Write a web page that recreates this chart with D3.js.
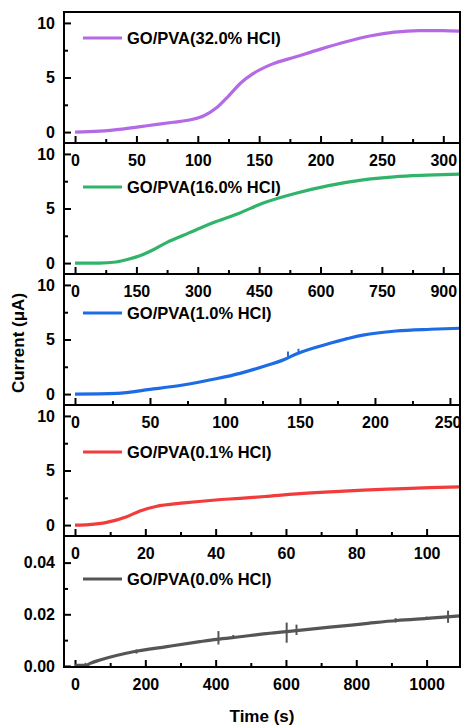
<!DOCTYPE html>
<html>
<head>
<meta charset="utf-8">
<script src="https://cdn.jsdelivr.net/npm/d3@7"></script>
<style>
  body { margin: 0; background: #fff; }
  text { font-family: "Liberation Sans", Arial, sans-serif; font-weight: bold; fill: #000; }
</style>
</head>
<body>
<div id="vis"></div>
<script>
const WIDTH = 462
const HEIGHT = 726
const LEFT = 64
const RIGHT = 460
const TOP = 12
const PANEL_H = 131

// series labels, top to bottom
const labels = [
	'GO/PVA(32.0% HCl)',
	'GO/PVA(16.0% HCl)',
	'GO/PVA(1.0% HCl)',
	'GO/PVA(0.1% HCl)',
	'GO/PVA(0.0% HCl)'
]
const colors = ['#b46ae4', '#30b46a', '#1e6be6', '#f23b3b', '#555555']

// time (s) and current (uA)
const t32 = [0, 20, 40, 60, 80, 95, 105, 115, 125, 135, 145, 160, 180, 200, 220, 240, 260, 280, 300, 313]
const i32 = [0, 0.08, 0.3, 0.6, 0.9, 1.15, 1.5, 2.2, 3.3, 4.5, 5.35, 6.2, 6.9, 7.6, 8.25, 8.8, 9.15, 9.3, 9.3, 9.25]

const t16 = [0, 60, 100, 130, 160, 190, 225, 265, 305, 345, 400, 460, 540, 620, 700, 780, 860, 940]
const i16 = [0, 0, 0.1, 0.35, 0.7, 1.2, 1.9, 2.55, 3.2, 3.8, 4.55, 5.5, 6.4, 7.1, 7.6, 7.9, 8.05, 8.15]

const t1 = [0, 28, 50, 72, 94, 110, 125, 140, 148, 170, 192, 214, 237, 257]
const i1 = [0, 0.06, 0.43, 0.83, 1.4, 1.9, 2.5, 3.2, 3.7, 4.65, 5.4, 5.78, 5.94, 6.03]

const t01 = [0, 4, 9, 14.7, 18.5, 23, 31, 40, 47, 54, 63, 72.5, 82, 91.5, 101, 109.5]
const i01 = [0, 0.05, 0.25, 0.77, 1.3, 1.7, 2.03, 2.3, 2.45, 2.62, 2.86, 3.05, 3.2, 3.32, 3.43, 3.5]

const t0 = [0, 30, 43, 71, 166, 261, 355, 403, 469, 536, 602, 725, 820, 915, 1010, 1095]
const i0 = [0.0002, 0.0002, 0.001, 0.0023, 0.0055, 0.0075, 0.0094, 0.0103, 0.0113, 0.0124, 0.0133, 0.015, 0.0163, 0.0176, 0.0185, 0.0194]

// noise spikes: [time, low, high]
const spikes1 = [[142, 3.4, 3.9], [149, 3.7, 4.15], [181, 5.0, 5.2]]
const spikes0 = [[30, -0.0004, 0.0012], [175, 0.0048, 0.0064], [408, 0.0083, 0.0135], [450, 0.0105, 0.012],
	[602, 0.009, 0.0168], [630, 0.012, 0.016], [912, 0.0168, 0.0185], [1000, 0.0178, 0.0191], [1061, 0.0167, 0.0214]]

// axis domains and ticks
const xDomains = [[-9, 313.6], [-27, 941], [-7.33, 256.7], [-3.13, 109.5], [-31.3, 1095]]
const xMajor = [
	[0, 50, 100, 150, 200, 250, 300],
	[0, 150, 300, 450, 600, 750, 900],
	[0, 50, 100, 150, 200, 250],
	[0, 20, 40, 60, 80, 100],
	[0, 200, 400, 600, 800, 1000]
]
const yDomains = [[-1, 11], [-1, 11], [-1, 11], [-1, 11], [-0.0004, 0.0503]]
const yMajor = [[0, 5, 10], [0, 5, 10], [0, 5, 10], [0, 5, 10], [0, 0.02, 0.04]]
const yMinor = [[2.5, 7.5], [2.5, 7.5], [2.5, 7.5], [2.5, 7.5], [0.01, 0.03]]
const yFormat = [d3.format('d'), d3.format('d'), d3.format('d'), d3.format('d'), d3.format('.2f')]

const series = [[t32, i32], [t16, i16], [t1, i1], [t01, i01], [t0, i0]]
const spikes = [[], [], spikes1, [], spikes0]
const legendOffset = [26, 44, 39, 47, 43]

let svg = d3.select('#vis')
	.append('svg')
	.attr('width', WIDTH)
	.attr('height', HEIGHT)

series.forEach((s, i) => {
	let top = TOP + i * PANEL_H
	let bottom = top + PANEL_H
	let x = d3.scaleLinear().domain(xDomains[i]).range([LEFT, RIGHT])
	let y = d3.scaleLinear().domain(yDomains[i]).range([bottom, top])

	let g = svg.append('g').attr('class', 'panel-' + i)

	// minor ticks (midpoints of majors)
	let majors = xMajor[i]
	let step = majors[1] - majors[0]
	let minors = majors.map(d => d + step / 2).filter(d => x(d) < RIGHT - 2)

	g.append('g')
		.attr('transform', `translate(0,${bottom})`)
		.call(d3.axisBottom(x).tickValues(minors).tickSize(-4).tickFormat(''))
		.call(a => a.select('.domain').remove())
		.call(a => a.selectAll('.tick line').attr('stroke', '#000').attr('stroke-width', 2))

	g.append('g')
		.attr('transform', `translate(0,${bottom})`)
		.call(d3.axisBottom(x).tickValues(majors).tickSize(-7).tickPadding(11.5).tickFormat(d3.format('d')))
		.call(a => a.select('.domain').remove())
		.call(a => a.selectAll('.tick line').attr('stroke', '#000').attr('stroke-width', 2))
		.call(a => a.selectAll('.tick text').attr('font-size', '16px').attr('font-family', null))
		.call(a => a.selectAll('.tick text').each(function (d) {
			// keep the last label inside the window
			let w = this.getComputedTextLength()
			let over = x(d) + w / 2 - (WIDTH - 1)
			if (over > 0) d3.select(this).attr('x', -over)
		}))

	g.append('g')
		.attr('transform', `translate(${LEFT},0)`)
		.call(d3.axisLeft(y).tickValues(yMinor[i]).tickSize(-4).tickFormat(''))
		.call(a => a.select('.domain').remove())
		.call(a => a.selectAll('.tick line').attr('stroke', '#000').attr('stroke-width', 2))

	g.append('g')
		.attr('transform', `translate(${LEFT},0)`)
		.call(d3.axisLeft(y).tickValues(yMajor[i]).tickSize(-7).tickPadding(9).tickFormat(yFormat[i]))
		.call(a => a.select('.domain').remove())
		.call(a => a.selectAll('.tick line').attr('stroke', '#000').attr('stroke-width', 2))
		.call(a => a.selectAll('.tick text').attr('font-size', '16px').attr('font-family', null))

	let pts = s[0].map((t, k) => [t, s[1][k]])
	let line = d3.line()
		.x(d => x(d[0]))
		.y(d => y(d[1]))
		.curve(d3.curveMonotoneX)

	g.append('path')
		.datum(pts)
		.attr('fill', 'none')
		.attr('stroke', colors[i])
		.attr('stroke-width', 3.2)
		.attr('stroke-linejoin', 'round')
		.attr('d', line)

	g.selectAll('.spike')
		.data(spikes[i])
		.enter()
		.append('line')
		.attr('class', 'spike')
		.attr('x1', d => x(d[0]))
		.attr('x2', d => x(d[0]))
		.attr('y1', d => y(d[1]))
		.attr('y2', d => y(d[2]))
		.attr('stroke', colors[i])
		.attr('stroke-width', 2)

	// legend
	let ly = top + legendOffset[i]
	g.append('line')
		.attr('x1', 83).attr('x2', 122)
		.attr('y1', ly).attr('y2', ly)
		.attr('stroke', colors[i])
		.attr('stroke-width', 3)
	g.append('text')
		.attr('x', 127)
		.attr('y', ly)
		.attr('dy', '0.36em')
		.attr('font-size', '16.5px')
		.text(labels[i])

	// frame
	g.append('rect')
		.attr('x', LEFT).attr('y', top)
		.attr('width', RIGHT - LEFT).attr('height', PANEL_H)
		.attr('fill', 'none')
		.attr('stroke', '#000')
		.attr('stroke-width', 2)
})

svg.append('text')
	.attr('x', (LEFT + RIGHT) / 2)
	.attr('y', 722)
	.attr('text-anchor', 'middle')
	.attr('font-size', '17px')
	.text('Time (s)')

svg.append('text')
	.attr('transform', 'translate(24,343) rotate(-90)')
	.attr('text-anchor', 'middle')
	.attr('font-size', '17px')
	.text('Current (μA)')
</script>
</body>
</html>
